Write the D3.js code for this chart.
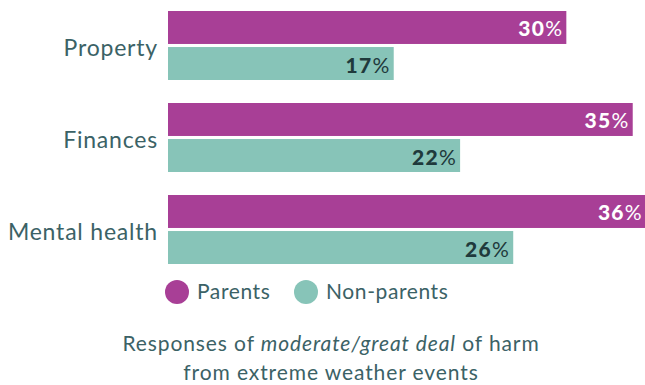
<!DOCTYPE html>
<html><head><meta charset="utf-8">
<script src="https://cdn.jsdelivr.net/npm/d3@7"></script>
<style>body{margin:0;background:#fff}svg{display:block}</style>
</head><body><div id="c"></div>
<script>
const categories = ["Property", "Finances", "Mental health"];
const seriesNames = ["Parents", "Non-parents"];
const parents = [30, 35, 36];
const nonParents = [17, 22, 26];
const captionLine1 = ["Responses of ", "moderate/great deal", " of harm"];
const captionLine2 = "from extreme weather events";

const W = 645, H = 385;
const colors = ["#a83f96", "#87c4b8"];
const labelColors = ["#ffffff", "#1f3a3c"];
const textColor = "#3b6266";
const font = "Lato, 'Open Sans', sans-serif";

const svg = d3.select("#c").append("svg").attr("width", W).attr("height", H);

const x = d3.scaleLinear().domain([0, 36]).range([168, 646]);
const y = d3.scaleBand().domain(categories).range([11, 264]).paddingInner(0.25).paddingOuter(0);
const sub = d3.scaleBand().domain(seriesNames).range([0, y.bandwidth()]).paddingInner(0.085);

const data = categories.map((c, i) => ({c, vals: [parents[i], nonParents[i]]}));

const g = svg.append("g");
data.forEach(d => {
  d.vals.forEach((v, k) => {
    const s = seriesNames[k];
    g.append("rect")
      .attr("x", x(0)).attr("y", y(d.c) + sub(s))
      .attr("width", x(v) - x(0)).attr("height", sub.bandwidth())
      .attr("fill", colors[k]);
    const t = g.append("text")
      .attr("x", x(v) - 3).attr("y", y(d.c) + sub(s) + sub.bandwidth() / 2 + 9)
      .attr("text-anchor", "end")
      .attr("font-family", font).attr("font-size", 21).attr("font-weight", 900)
      .attr("letter-spacing", 1.3)
      .attr("fill", labelColors[k]);
    t.append("tspan").text(v);
    t.append("tspan").attr("font-weight", 400).text("%");
  });
  g.append("text")
    .attr("x", 158).attr("y", y(d.c) + y.bandwidth() / 2 + 10)
    .attr("text-anchor", "end")
    .attr("font-family", font).attr("font-size", 23).attr("letter-spacing", 0.8)
    .attr("fill", textColor).text(d.c);
});

// legend
const legendX = [177, 306];
seriesNames.forEach((s, k) => {
  svg.append("circle").attr("cx", legendX[k]).attr("cy", 292).attr("r", 12).attr("fill", colors[k]);
  svg.append("text").attr("x", legendX[k] + 20).attr("y", 299)
    .attr("font-family", font).attr("font-size", 21).attr("letter-spacing", 0.6)
    .attr("fill", textColor).text(s);
});

// caption
const cap = svg.append("text").attr("x", 331).attr("y", 351).attr("text-anchor", "middle")
  .attr("font-family", font).attr("font-size", 21).attr("letter-spacing", 0.9).attr("fill", textColor);
captionLine1.forEach((p, i) => cap.append("tspan").attr("font-style", i === 1 ? "italic" : "normal").text(p));
svg.append("text").attr("x", 331).attr("y", 380).attr("text-anchor", "middle")
  .attr("font-family", font).attr("font-size", 21).attr("letter-spacing", 0.9)
  .attr("fill", textColor).text(captionLine2);
</script></body></html>
